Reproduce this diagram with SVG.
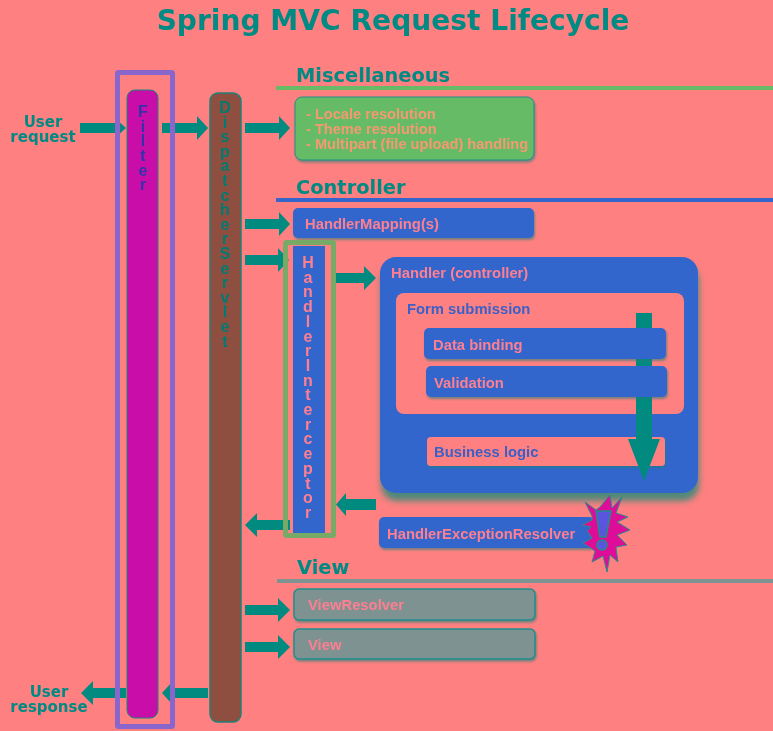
<svg xmlns="http://www.w3.org/2000/svg" width="773" height="731" viewBox="0 0 773 731">
<style>
text{font-family:"Liberation Sans",Arial,sans-serif;font-weight:bold}
.h{font-family:"DejaVu Sans",Verdana,sans-serif;fill:#008a84}
.sec{font-size:19.400px}
.usr{font-size:15px;text-anchor:middle}
.lbl{font-size:14.800px;fill:#ff7f90}
.lblb{font-size:14.800px;fill:#3a60c8}
.v{font-size:16px;text-anchor:middle}
.blue{fill:#3366cc}
.gray{fill:#7f9292;stroke:#1f8f8a;stroke-width:1.500}
.pinkb{fill:#ff8080}
.arr{fill:#008a80}
.shadow{filter:url(#sh)}
.frame{fill:none;stroke-width:5}
</style>
<defs>
<filter id="sh" x="-10%" y="-10%" width="120%" height="125%"><feDropShadow dx="1" dy="2" stdDeviation="1.200" flood-color="#1f8078" flood-opacity=".6"/></filter>
<filter id="shb" x="-5%" y="-5%" width="110%" height="112%"><feDropShadow dx="1" dy="8" stdDeviation="3" flood-color="#2f8a78" flood-opacity=".85"/></filter>
<filter id="soft" x="-2%" y="-2%" width="104%" height="104%"><feGaussianBlur stdDeviation=".5"/></filter>
</defs>
<rect width="773" height="731" fill="#ff8080"/>
<g filter="url(#soft)">
<text class="h" x="393" y="30" font-size="28.100" text-anchor="middle">Spring MVC Request Lifecycle</text>

<g id="section-lines">
<rect x="276" y="86" width="497" height="4" fill="#66bb66"/>
<rect x="276" y="198" width="497" height="4" fill="#3366cc"/>
<rect x="277" y="579" width="496" height="4" fill="#7f9292"/>
</g>
<text id="title-misc" class="h sec" x="296" y="82">Miscellaneous</text>
<text id="title-controller" class="h sec" x="296" y="194">Controller</text>
<text id="title-view" class="h sec" x="297" y="574">View</text>

<g id="user-request"><text class="h usr" x="43" y="127">User</text><text class="h usr" x="43" y="142">request</text></g>
<g id="user-response"><text class="h usr" x="49" y="697">User</text><text class="h usr" x="49" y="712">response</text></g>

<g id="handler">
<rect x="380" y="257" width="318" height="236" rx="16" style="fill:#3366cc;filter:url(#shb)"/>
<text class="lbl" x="391" y="278">Handler (controller)</text>
</g>
<g id="form-submission">
<rect x="396" y="293" width="288" height="121" rx="8" class="pinkb"/>
<text class="lblb" x="407" y="314">Form submission</text>
</g>
<g id="business-logic">
<rect x="427" y="437" width="238" height="29" rx="4" class="pinkb shadow"/>
<text class="lblb" x="434" y="457">Business logic</text>
</g>

<g id="connectors">
<path class="arr" d="M80 123H115V118L126 128L115 138V133H80Z"/>
<path class="arr" d="M162 123H197V116L208 128L197 140V133H162Z"/>
<path class="arr" d="M245 123H279V116L290 128L279 140V133H245Z"/>
<path class="arr" d="M245 219H279V212L290 224L279 236V229H245Z"/>
<path class="arr" d="M245 255H278V248L289 260L278 272V265H245Z"/>
<path class="arr" d="M336 273H364V266L376 278L364 290V283H336Z"/>
<path class="arr" d="M376 499H346V493L336 504.500L346 516V510H376Z"/>
<path class="arr" d="M290 520H257V513L245 525L257 537V530H290Z"/>
<path class="arr" d="M245 605H278V598L290 610L278 622V615H245Z"/>
<path class="arr" d="M245 642H278V635L290 647L278 659V652H245Z"/>
<path class="arr" d="M126 688H93V681L81 693L93 705V698H126Z"/>
<path class="arr" d="M208 688H172V682L162 693L172 704V698H208Z"/>
<path class="arr" d="M636 313H652V439H660L644 481L628 439H636Z"/>
</g>

<g id="filter">
<rect x="127" y="90" width="31" height="628" rx="8" fill="#c811a8" stroke="#1f8078" stroke-width="1"/>
<text class="v" fill="#3333a8" x="143 143 143 143 143 143" y="117 132 146 161 176 190">Filter</text>
</g>
<g id="filter-frame"><rect class="frame" x="117.500" y="72.500" width="55" height="654" rx="1" stroke="#8866cc"/></g>
<g id="dispatcher-servlet">
<rect x="210" y="93" width="31" height="629" rx="8" fill="#8f5040" stroke="#1f8078" stroke-width="1.500"/>
<text class="v" fill="#007a72" x="225 225 225 225 225 225 225 225 225 225 225 225 225 225 225 225 225" y="113 127.600 142.200 156.800 171.400 186 200.600 215.200 229.800 244.400 259 273.600 288.200 302.800 317.400 332 346.600">DispatcherServlet</text>
</g>
<g id="miscellaneous">
<rect x="295" y="97" width="239" height="63" rx="7" fill="#66bb66" stroke="#1f8f8a" stroke-width="1" class="shadow"/>
<text font-size="14.600" fill="#f59a70"><tspan x="306" y="119">- Locale resolution</tspan><tspan x="306" y="134">- Theme resolution</tspan><tspan x="306" y="149">- Multipart (file upload) handling</tspan></text>
</g>
<g id="handler-mappings">
<rect x="293" y="208" width="241" height="30" rx="5" class="blue shadow"/>
<text class="lbl" x="305" y="229">HandlerMapping(s)</text>
</g>
<g id="handler-interceptor">
<rect x="293" y="246" width="32" height="287" class="blue"/>
<text class="v" fill="#ff7f90" x="308 308 308 308 308 308 308 308 308 308 308 308 308 308 308 308 308 308" y="268 282.700 297.400 312.100 326.800 341.500 356.200 370.900 385.600 400.300 415 429.700 444.400 459.100 473.800 488.500 503.200 517.900">HandlerInterceptor</text>
</g>
<g id="interceptor-frame"><rect class="frame" x="285.500" y="242.500" width="48" height="293" rx="1" stroke="#77aa66"/></g>
<g id="data-binding">
<rect x="424" y="328" width="242" height="31" rx="5" class="blue shadow"/>
<text class="lbl" x="433" y="350">Data binding</text>
</g>
<g id="validation">
<rect x="426" y="366" width="241" height="31" rx="5" class="blue shadow"/>
<text class="lbl" x="434" y="388">Validation</text>
</g>
<g id="handler-exception-resolver">
<rect x="379" y="517" width="215" height="31" rx="5" class="blue shadow"/>
<text class="lbl" x="387" y="539">HandlerExceptionResolver</text>
</g>
<g id="exception-burst">
<polygon points="610,495 612,508 622,497 616,513 628,517 617,522 630,530 617,535 627,545 616,547 618,562 610,555 607,572 603,556 592,562 595,551 583,543 592,538 587,531 591,527 582,525 592,520 592,516 585,502 596,510 600,507" fill="#dd0f99" stroke="#2a8a88" stroke-width="1"/>
<path d="M596 511H611L606 537H600Z" fill="#5a55dd" stroke="#1f8f8a" stroke-width="1.500"/>
<circle cx="602" cy="545" r="5" fill="#5a55dd" stroke="#1f8f8a" stroke-width="1.500"/>
</g>
<g id="view-resolver">
<rect x="294" y="589" width="241" height="31" rx="5" class="gray shadow"/>
<text class="lbl" x="308" y="610">ViewResolver</text>
</g>
<g id="view">
<rect x="294" y="629" width="241" height="30" rx="5" class="gray shadow"/>
<text class="lbl" x="308" y="650">View</text>
</g>
</g>
</svg>
